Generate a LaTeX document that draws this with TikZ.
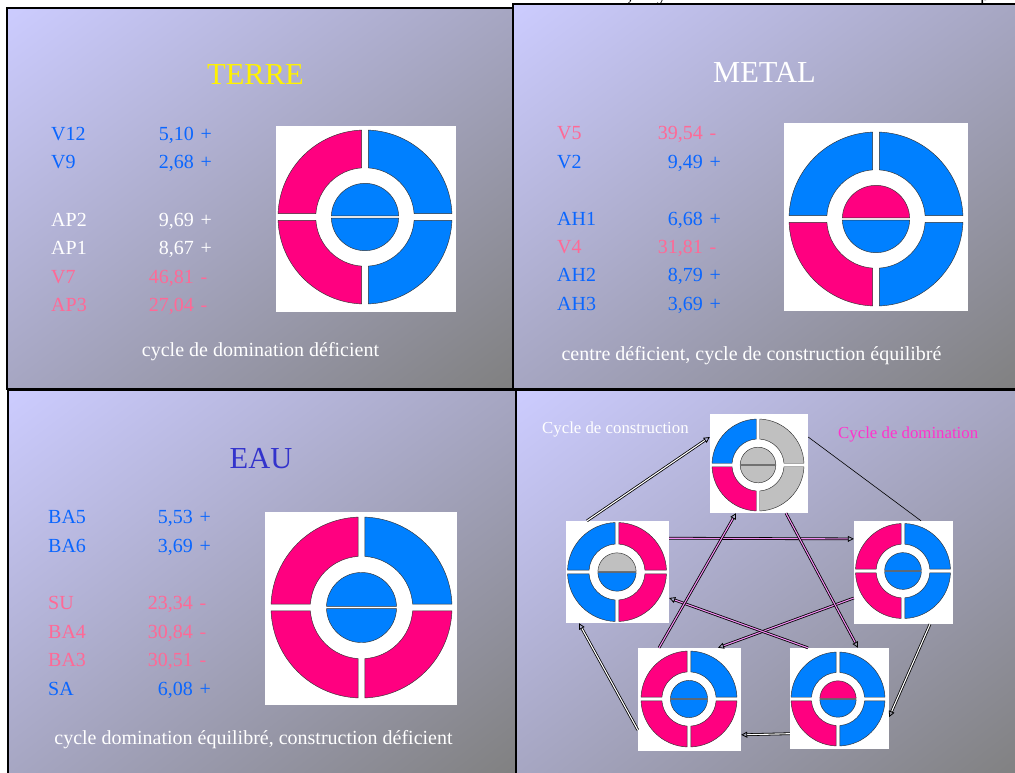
\documentclass[tikz,border=0pt]{standalone}
\usepackage{fontspec}
\setmainfont{Liberation Serif}
\usetikzlibrary{arrows.meta,calc,shadings}
\definecolor{wblue}{RGB}{0,128,255}
\definecolor{wpink}{RGB}{255,0,128}
\definecolor{wgray}{RGB}{192,192,192}
\definecolor{tblue}{RGB}{10,102,255}
\definecolor{tpink}{RGB}{255,105,150}
\definecolor{pgTL}{RGB}{204,204,255}
\definecolor{pgBR}{RGB}{128,128,128}
\definecolor{pgMID}{RGB}{166,166,194}
\definecolor{eauc}{RGB}{51,51,204}
\definecolor{domc}{RGB}{255,51,204}
\definecolor{arrpink}{RGB}{240,140,240}
\definecolor{wline}{RGB}{50,50,50}

\tikzset{
  panelbox/.style={draw=black, line width=1.2pt, upper left=pgTL, lower right=pgBR, upper right=pgMID, lower left=pgMID},
  imgbox/.style={draw=none, fill=white, inner sep=0pt},
  dat/.style={font=\fontsize{20}{24}\selectfont, inner sep=0pt},
  capt/.style={font=\fontsize{20}{24}\selectfont, inner sep=0pt, text=white, anchor=base},
  ttl/.style={font=\fontsize{30.5}{34}\selectfont, inner sep=0pt, anchor=base},
  lbl/.style={font=\fontsize{16.8}{20}\selectfont, inner sep=0pt, anchor=base west},
  cons/.style={draw=black, line width=0.8pt, double=white, double distance=1.1pt, -{Triangle[open, length=6pt, width=6pt]}},
  domi/.style={cons, double=arrpink},
  plainln/.style={draw=black, line width=0.6pt}
}

% \wheel{cx}{cy}{R}{TL}{TR}{BL}{BR}{innerTop}{innerBottom}
\newcommand\wheel[9]{%
\pgfmathsetmacro\wSc{#3/100}%
\pgfmathsetmacro\wAo{asin(3.8/100)}%
\pgfmathsetmacro\wAi{asin(3.8/56.6)}%
\pgfmathsetmacro\wAj{asin(1.2/38.7)}%
\begin{scope}[shift={(#1,#2)}, x=\wSc pt, y=\wSc pt, wseg/.style={draw=wline, line width=0.45pt}]
\path[wseg, fill=#4] (90+\wAo:100) arc[start angle=90+\wAo, end angle=180-\wAo, radius=100] -- (180-\wAi:56.6) arc[start angle=180-\wAi, end angle=90+\wAi, radius=56.6] -- cycle;
\path[wseg, fill=#5] (90-\wAo:100) arc[start angle=90-\wAo, end angle=\wAo, radius=100] -- (\wAi:56.6) arc[start angle=\wAi, end angle=90-\wAi, radius=56.6] -- cycle;
\path[wseg, fill=#6] (180+\wAo:100) arc[start angle=180+\wAo, end angle=270-\wAo, radius=100] -- (270-\wAi:56.6) arc[start angle=270-\wAi, end angle=180+\wAi, radius=56.6] -- cycle;
\path[wseg, fill=#7] (270+\wAo:100) arc[start angle=270+\wAo, end angle=360-\wAo, radius=100] -- (360-\wAi:56.6) arc[start angle=360-\wAi, end angle=270+\wAi, radius=56.6] -- cycle;
\path[wseg, fill=#8] (\wAj:38.7) arc[start angle=\wAj, end angle=180-\wAj, radius=38.7] -- cycle;
\path[wseg, fill=#9] (180+\wAj:38.7) arc[start angle=180+\wAj, end angle=360-\wAj, radius=38.7] -- cycle;
\end{scope}}

% \datrow{name}{xlabel}{xnum}{baseline}{color}{label}{number}{sign}
\newcommand\datrow[8]{%
\node[dat, text=#5, anchor=base west] (#1l) at (#2,#4) {#6};
\node[dat, text=#5, anchor=base east] (#1n) at (#3,#4) {#7};
\node[dat, text=#5, anchor=base west] (#1s) at (#3+6.5,#4) {#8};}

\begin{document}
\begin{tikzpicture}[x=1pt, y=-1pt]
\useasboundingbox (0,0) rectangle (1015,772);
\fill[white] (0,0) rectangle (1015,772);

% clipped fragments of a line of text above the picture
\node[dat, anchor=base] (fragA) at (630,0) {,};
\node[dat, anchor=base] (fragB) at (662,0) {y};
\node[dat, anchor=base] (fragC) at (985,0) {p};

% panels
\shade[panelbox] (7,8) rectangle (513,389);
\shade[panelbox] (513,4) rectangle (1022,389);
\shade[panelbox] (8,390) rectangle (516,778);
\shade[panelbox] (516,390) rectangle (1022,778);

% ---------- TERRE ----------
\node[ttl, text=yellow] (t1) at (255.5,84) {TERRE};
\datrow{a1}{51}{194}{140}{tblue}{V12}{5,10}{+}
\datrow{a2}{51}{194}{168}{tblue}{V9}{2,68}{+}
\datrow{a3}{51}{194}{226}{white}{AP2}{9,69}{+}
\datrow{a4}{51}{194}{254}{white}{AP1}{8,67}{+}
\datrow{a5}{51}{194}{283}{tpink}{V7}{46,81}{-}
\datrow{a6}{51}{194}{311}{tpink}{AP3}{27,04}{-}
\node[imgbox, minimum width=180pt, minimum height=186pt] (w1) at (366,219) {};
\wheel{365}{217}{87}{wpink}{wblue}{wpink}{wblue}{wblue}{wblue}
\node[capt] (c1) at (260.5,356) {cycle de domination déficient};

% ---------- METAL ----------
\node[ttl, text=white] (t2) at (764.5,82) {METAL};
\datrow{b1}{557}{703}{139}{tpink}{V5}{39,54}{-}
\datrow{b2}{557}{703}{168}{tblue}{V2}{9,49}{+}
\datrow{b3}{557}{703}{225}{tblue}{AH1}{6,68}{+}
\datrow{b4}{557}{703}{253}{tpink}{V4}{31,81}{-}
\datrow{b5}{557}{703}{281}{tblue}{AH2}{8,79}{+}
\datrow{b6}{557}{703}{310}{tblue}{AH3}{3,69}{+}
\node[imgbox, minimum width=184pt, minimum height=188pt] (w2) at (876,217) {};
\wheel{876}{219}{87}{wblue}{wblue}{wpink}{wblue}{wpink}{wblue}
\node[capt] (c2) at (751.5,360) {centre déficient, cycle de construction équilibré};

% ---------- EAU ----------
\node[ttl, text=eauc] (t3) at (261,468) {EAU};
\datrow{e1}{48}{193}{523}{tblue}{BA5}{5,53}{+}
\datrow{e2}{48}{193}{552}{tblue}{BA6}{3,69}{+}
\datrow{e3}{48}{193}{609}{tpink}{SU}{23,34}{-}
\datrow{e4}{48}{193}{638}{tpink}{BA4}{30,84}{-}
\datrow{e5}{48}{193}{666}{tpink}{BA3}{30,51}{-}
\datrow{e6}{48}{193}{695}{tblue}{SA}{6,08}{+}
\node[imgbox, minimum width=192pt, minimum height=193pt] (w3) at (361,608.5) {};
\wheel{361.5}{607.5}{90.5}{wpink}{wblue}{wpink}{wpink}{wblue}{wblue}
\node[capt] (c3) at (253.5,744) {cycle domination équilibré, construction déficient};

% ---------- cycles ----------
\node[lbl, text=white] (lc) at (542,433) {Cycle de construction};
\node[lbl, text=domc] (ld) at (838,438) {Cycle de domination};

\node[imgbox, minimum width=98pt, minimum height=99pt] (T) at (759,463.5) {};
\wheel{758}{465}{46}{wblue}{wgray}{wpink}{wgray}{wgray}{wgray}
\node[imgbox, minimum width=103pt, minimum height=102pt] (L) at (617.5,572) {};
\wheel{617}{572}{49.5}{wblue}{wpink}{wblue}{wpink}{wgray}{wblue}
\node[imgbox, minimum width=99pt, minimum height=103pt] (R) at (903.5,572.5) {};
\wheel{903}{571}{47.5}{wpink}{wblue}{wpink}{wblue}{wblue}{wblue}
\node[imgbox, minimum width=103pt, minimum height=103pt] (BL) at (689.5,699.5) {};
\wheel{689}{699}{48}{wpink}{wblue}{wpink}{wpink}{wblue}{wblue}
\node[imgbox, minimum width=99pt, minimum height=101pt] (BR) at (839.5,698.5) {};
\wheel{838}{699}{47}{wblue}{wblue}{wpink}{wblue}{wpink}{wblue}

% construction cycle
\draw[cons] ($(L.north)+(-30.5,0)$) -- ($(T.west)+(0,-26.5)$);
\draw[plainln] ($(T.east)+(0,-26.5)$) -- ($(R.north)+(17.5,0)$);
\draw[cons] ($(R.south)+(26.5,0)$) -- ($(BR.east)+(0,18.5)$);
\draw[cons] ($(BR.west)+(0,35.2)$) -- ($(BL.east)+(0,35.3)$);
\draw[cons] ($(BL.west)+(0,30.5)$) -- ($(L.south)+(-38.5,0)$);
% domination cycle
\draw[domi] ($(L.east)+(0,-33.8)$) -- ($(R.west)+(0,-33.6)$);
\draw[domi] ($(R.west)+(0,25.5)$) -- ($(BL.north)+(28.5,0)$);
\draw[domi] ($(BR.north)+(-31.5,0)$) -- ($(L.east)+(0,26)$);
\draw[domi] ($(BL.north)+(-30.5,0)$) -- ($(T.south)+(-23,0)$);
\draw[domi] ($(T.south)+(27,0)$) -- ($(BR.north)+(18.5,0)$);
\end{tikzpicture}
\end{document}
